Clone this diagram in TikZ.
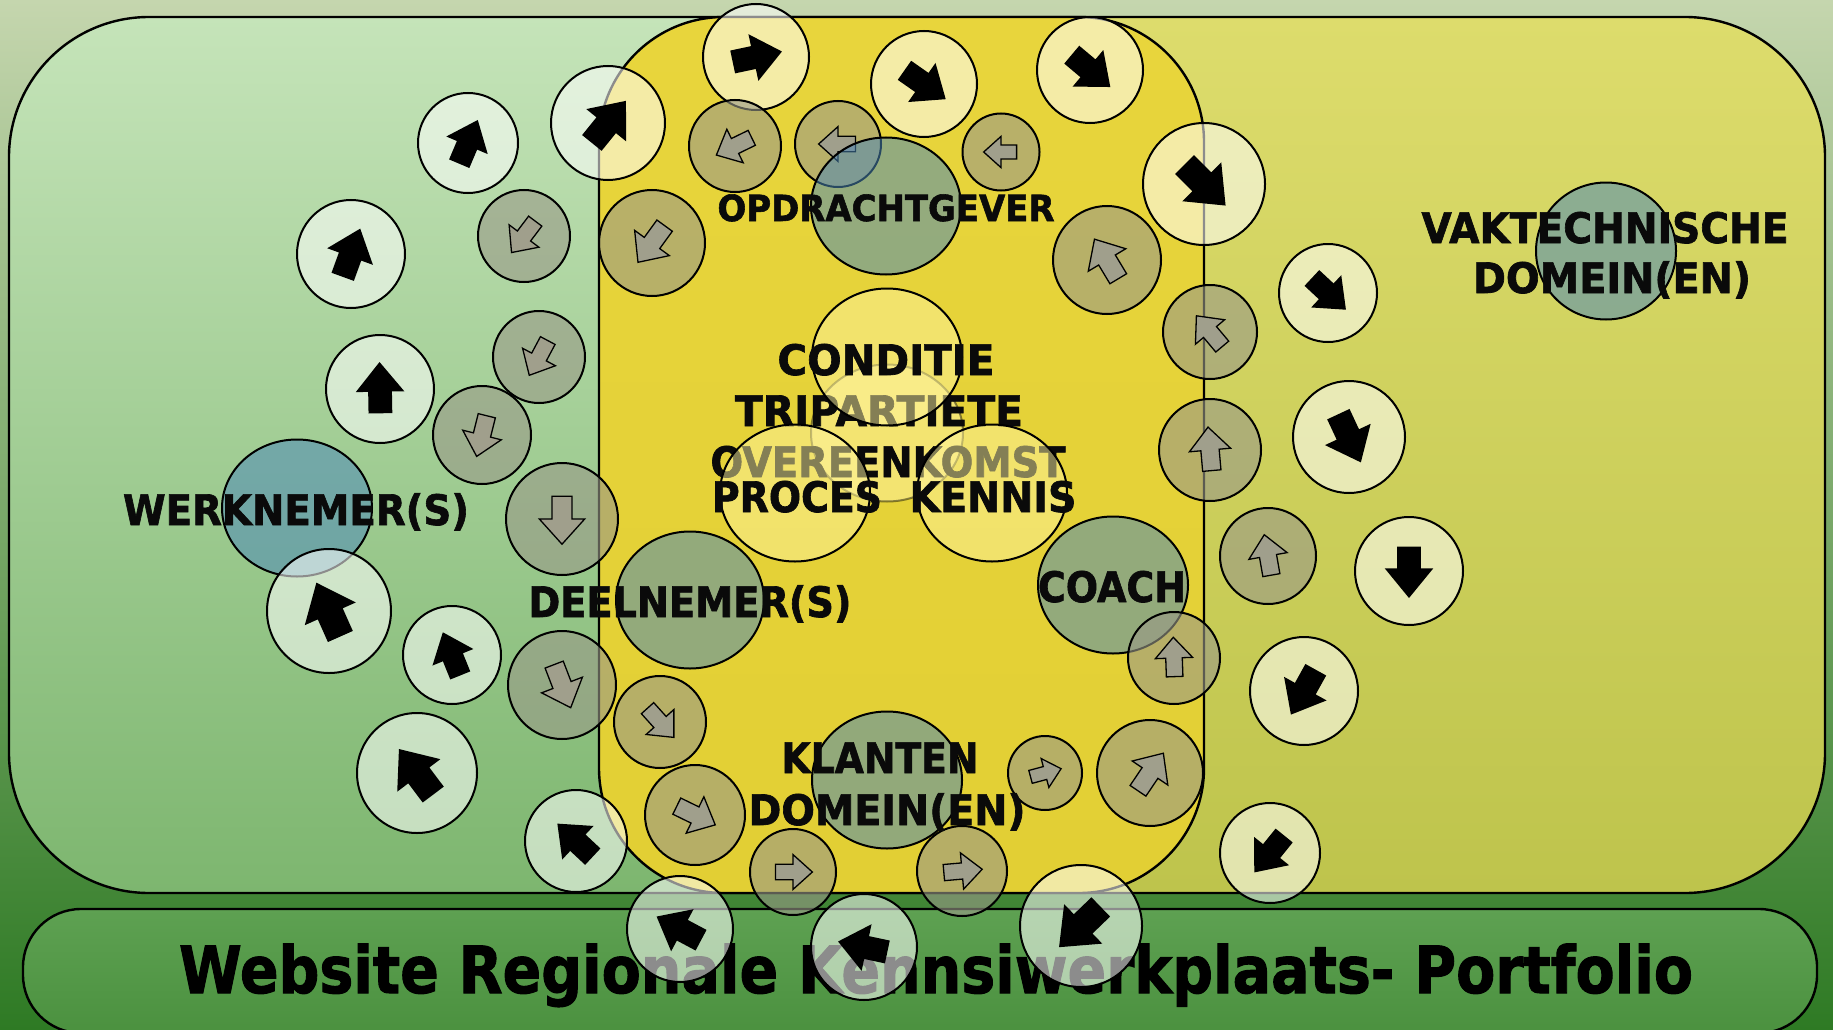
\documentclass[tikz,border=0pt]{standalone}
\usepackage{fontspec}
\setmainfont{DejaVu Sans}[BoldFeatures={FakeBold=1.6}]
\usepackage{graphicx}
\definecolor{bgtop}{HTML}{C5D6AE}
\definecolor{bgbot}{HTML}{2E7A24}
\definecolor{greentop}{HTML}{C5E4B9}
\definecolor{greenbot}{HTML}{7DB66F}
\definecolor{olivetop}{HTML}{DDDC6C}
\definecolor{olivebot}{HTML}{BEC44C}
\definecolor{yeltop}{HTML}{E8D53C}
\definecolor{yelbot}{HTML}{E2CF34}
\definecolor{bantop}{HTML}{5EA152}
\definecolor{banbot}{HTML}{4B913F}
\definecolor{lblue}{HTML}{4B88B9}
\definecolor{yelcirc}{HTML}{FFF4A0}
\definecolor{darkfill}{HTML}{999988}
\definecolor{arrowgrey}{HTML}{A09F8C}
\definecolor{inktext}{HTML}{0A0A0A}
\tikzset{
  boxline/.style={draw=black, line width=2.4pt},
  lightcirc/.style={draw=black, line width=2pt, fill=white, fill opacity=0.55},
  darkcirc/.style={draw=black, line width=2pt, fill=darkfill, fill opacity=0.6},
  labelcirc/.style={draw=black, line width=2pt, fill=lblue, fill opacity=0.53},
  yelcircle/.style={draw=black, line width=2pt, fill=yelcirc, fill opacity=0.5},
  lbl/.style={anchor=base, inner sep=0pt, text=inktext, font=\fontsize{42}{42}\selectfont\bfseries},
  lblsmall/.style={lbl, font=\fontsize{36}{36}\selectfont\bfseries},
  bannertext/.style={anchor=base, inner sep=0pt, text=black, font=\fontsize{65}{65}\selectfont\bfseries},
  blackarrowstyle/.style={fill=black},
  greyarrowstyle/.style={fill=arrowgrey, draw=black, line width=1.3pt}
}
% light circle with black arrow: x, y, r, angle
\newcommand\lightc[4]{%
  \path[lightcirc] (#1,#2) circle[radius=#3];
  \path[blackarrowstyle, shift={(#1,#2)}, rotate=#4, scale=#3]
    (-0.45,-0.22) -- (-0.05,-0.22) -- (-0.05,-0.45) -- (0.5,0) -- (-0.05,0.45) -- (-0.05,0.22) -- (-0.45,0.22) -- cycle;
}
% dark circle with grey outlined arrow: x, y, r, angle
\newcommand\darkc[4]{%
  \path[darkcirc] (#1,#2) circle[radius=#3];
  \path[greyarrowstyle, shift={(#1,#2)}, rotate=#4, scale={0.9*#3}]
    (-0.45,-0.2) -- (0.0,-0.2) -- (0.0,-0.45) -- (0.5,0) -- (0.0,0.45) -- (0.0,0.2) -- (-0.45,0.2) -- cycle;
}
\begin{document}
\begin{tikzpicture}[x=1pt,y=-1pt]
\useasboundingbox (0,0) rectangle (1833,1030);
% background
\shade[top color=bgtop, bottom color=bgbot] (0,0) rectangle (1833,1030);
% outer box: green left, olive right
\begin{scope}
  \clip[rounded corners=140] (9,17) rectangle (1825,893);
  \shade[top color=greentop, bottom color=greenbot] (9,17) rectangle (900,893);
  \shade[top color=olivetop, bottom color=olivebot] (900,17) rectangle (1825,893);
\end{scope}
\draw[boxline, rounded corners=140] (9,17) rectangle (1825,893);
% central yellow box
\shadedraw[top color=yeltop, bottom color=yelbot, boxline, rounded corners=125] (599,17) rectangle (1204,893);
% banner
\shadedraw[top color=bantop, bottom color=banbot, boxline, rounded corners=58] (23,909) rectangle (1817,1033);
\node[bannertext] (title) at (936,993) {\resizebox{1514pt}{\height}{Website Regionale Kennsiwerkplaats- Portfolio}};
% central overlap circle and tripartite text
\path[draw=black, draw opacity=0.45, line width=2pt, fill=yelcirc, fill opacity=0.55] (887,433) ellipse[x radius=76, y radius=68.5];
\node[lbl] (trip) at (879,426) {\resizebox{288pt}{\height}{TRIPARTIETE}};
\node[lbl] (over) at (888,477) {\resizebox{355pt}{\height}{OVEREENKOMST}};
% yellow circles
\path[yelcircle] (887,357) ellipse[x radius=75, y radius=68.5];
\path[yelcircle] (795,493) ellipse[x radius=75, y radius=68.5];
\path[yelcircle] (992,493) ellipse[x radius=75, y radius=68.5];
% label circles
\path[labelcirc] (297,508) ellipse[x radius=75, y radius=68.5];
\path[labelcirc] (690,600) ellipse[x radius=74, y radius=68.5];
\path[labelcirc] (1113,585) ellipse[x radius=75, y radius=68.5];
\path[labelcirc] (887,780) ellipse[x radius=75, y radius=68.5];
\path[labelcirc] (1606,251) ellipse[x radius=70, y radius=68.5];
% light circles, outer flow
\lightc{468}{143}{50}{67}
\lightc{351}{254}{54}{70}
\lightc{380}{389}{54}{91}
\lightc{329}{611}{62}{114}
\lightc{452}{655}{49}{112}
\lightc{417}{773}{60}{127}
\lightc{576}{841}{51}{137}
\lightc{680}{929}{53}{152}
\lightc{864}{947}{53}{168}
\lightc{1081}{926}{61}{-136}
\lightc{608}{123}{57}{51}
\lightc{756}{57}{53}{12}
\lightc{924}{84}{53}{-35}
\lightc{1090}{70}{53}{-40}
\lightc{1204}{184}{61}{-45}
\lightc{1328}{293}{49}{-43}
\lightc{1349}{437}{56}{-65}
\lightc{1409}{571}{54}{-90}
\lightc{1304}{691}{54}{-119}
\lightc{1270}{853}{50}{-129}
% dark circles, inner flow
\darkc{735}{146}{46}{206}
\darkc{838}{144}{43}{180}
\darkc{1001}{152}{38.5}{180}
\darkc{1107}{260}{54}{121}
\darkc{1210}{332}{47}{130}
\darkc{1210}{450}{51}{95}
\darkc{1268}{556}{48}{100}
\darkc{1174}{658}{46}{92}
\darkc{1150}{773}{53}{56}
\darkc{1045}{773}{37}{15}
\darkc{962}{871}{45}{5}
\darkc{793}{872}{43}{0}
\darkc{695}{815}{50}{-26}
\darkc{660}{722}{46}{-48}
\darkc{562}{685}{54}{-69}
\darkc{562}{519}{56}{-90}
\darkc{482}{435}{49}{-104}
\darkc{539}{357}{46}{-118}
\darkc{524}{236}{46}{-127}
\darkc{652}{243}{53}{-126}
% opdrachtgever circle (above the small circles)
\path[labelcirc] (886,206) ellipse[x radius=75, y radius=68.5];
% labels
\node[lblsmall] (opdr) at (886,221) {\resizebox{337pt}{\height}{OPDRACHTGEVER}};
\node[lbl] (vak1) at (1605,243) {\resizebox{367pt}{\height}{VAKTECHNISCHE}};
\node[lbl] (vak2) at (1612,293) {\resizebox{278pt}{\height}{DOMEIN(EN)}};
\node[lbl] (cond) at (886,375) {\resizebox{217pt}{\height}{CONDITIE}};
\node[lbl] (proc) at (797,512) {\resizebox{170pt}{\height}{PROCES}};
\node[lbl] (kenn) at (993,512) {\resizebox{167pt}{\height}{KENNIS}};
\node[lbl] (werk) at (296,525) {\resizebox{346pt}{\height}{WERKNEMER(S)}};
\node[lbl] (deel) at (690,617) {\resizebox{323pt}{\height}{DEELNEMER(S)}};
\node[lbl] (coach) at (1112,602) {\resizebox{148pt}{\height}{COACH}};
\node[lbl] (klant) at (880,773) {\resizebox{197pt}{\height}{KLANTEN}};
\node[lbl] (dom2) at (887,825) {\resizebox{277pt}{\height}{DOMEIN(EN)}};
\end{tikzpicture}
\end{document}
